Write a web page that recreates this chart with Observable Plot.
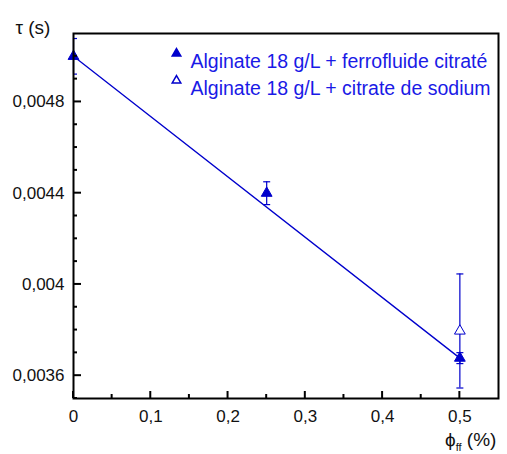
<!DOCTYPE html>
<html><head><meta charset="utf-8">
<script src="https://cdn.jsdelivr.net/npm/d3@7"></script>
<script src="https://cdn.jsdelivr.net/npm/@observablehq/plot@0.6"></script>
<style>body{margin:0;background:#fff;} svg{font-family:Arial,"Liberation Sans",sans-serif;}</style>
</head><body><div id="chart"></div>
<script>
// Series: filled triangles (ferrofluide citraté)
const ferroX = [0, 0.25, 0.5];
const ferroY = [0.005, 0.00440, 0.003677];
const ferroErr = [0.000078, 0.00005, 0.000024];
// Series: open triangles (citrate de sodium)
const citrateX = [0.5];
const citrateY = [0.003796];
const citrateErr = [0.00025];
// Linear fit line (end points)
const fitX = [0, 0.5];
const fitY = [0.005, 0.003677];
// Axis ticks
const xMajor = [0, 0.1, 0.2, 0.3, 0.4, 0.5];
const xMinor = [0.05, 0.15, 0.25, 0.35, 0.45];
const yMajor = [0.0036, 0.004, 0.0044, 0.0048];
const yMinor = [0.0035, 0.0037, 0.0038, 0.0039, 0.0041, 0.0042, 0.0043, 0.0045, 0.0046, 0.0047, 0.0049, 0.005];
const seriesNames = ["Alginate 18 g/L + ferrofluide citraté", "Alginate 18 g/L + citrate de sodium"];
const yTitle = "τ (s)";
const xTitleMain = "ϕ", xTitleSub = "ff", xTitleRest = " (%)";

const ferro = ferroX.map((x, i) => ({x, y: ferroY[i], lo: ferroY[i] - ferroErr[i], hi: ferroY[i] + ferroErr[i]}));
const citrate = citrateX.map((x, i) => ({x, y: citrateY[i], lo: citrateY[i] - citrateErr[i], hi: citrateY[i] + citrateErr[i]}));
const fit = fitX.map((x, i) => ({x, y: fitY[i]}));
const allPts = ferro.concat(citrate);

const W = 507, H = 454, mL = 73, mR = 9, mT = 33, mB = 56;

const blue = "#0000cc";
const textBlue = "#1a1ae6";
const comma = d => String(d).replace(".", ",");
const capSymbol = {draw(ctx, size) { const r = 3.5; ctx.moveTo(-r, 0); ctx.lineTo(r, 0); }};

const chart = Plot.plot({
  width: W, height: H,
  marginLeft: mL, marginRight: mR, marginTop: mT, marginBottom: mB,
  style: {fontFamily: "Arial, 'Liberation Sans', sans-serif", background: "#fff"},
  x: {domain: [0, 0.55]},
  y: {domain: [0.0035, 0.0051]},
  marks: [
    Plot.axisY(yMajor, {tickSize: 0, tickPadding: 9, tickFormat: comma, fontSize: 17, fill: "#111", label: null}),
    Plot.axisX(xMajor, {tickSize: 0, tickPadding: 11, tickFormat: comma, fontSize: 17, fill: "#111", label: null}),
    Plot.line(fit, {x: "x", y: "y", stroke: blue, strokeWidth: 1.3}),
    Plot.ruleX(allPts, {x: "x", y1: "lo", y2: "hi", stroke: blue, strokeWidth: 1.2}),
    Plot.dot(allPts, {x: "x", y: "lo", symbol: capSymbol, stroke: blue, strokeWidth: 1.2, r: 4, clip: true}),
    Plot.dot(allPts, {x: "x", y: "hi", symbol: capSymbol, stroke: blue, strokeWidth: 1.2, r: 4, clip: true}),
    Plot.dot(citrate, {x: "x", y: "y", symbol: "triangle", fill: "#fff", stroke: blue, strokeWidth: 1, r: 4}),
    Plot.dot(ferro, {x: "x", y: "y", symbol: "triangle", fill: blue, stroke: blue, strokeWidth: 1, r: 4}),
    Plot.frame({stroke: "#000", strokeWidth: 2}),
    // legend
    Plot.dot([seriesNames[0]], {frameAnchor: "top-left", dx: 103, dy: 20, symbol: "triangle", fill: blue, stroke: blue, r: 3.2}),
    Plot.dot([seriesNames[1]], {frameAnchor: "top-left", dx: 103, dy: 47, symbol: "triangle", fill: "#fff", stroke: blue, r: 3.2}),
    Plot.text([seriesNames[0]], {text: d => d, frameAnchor: "top-left", dx: 117, dy: 21, textAnchor: "start", fontSize: 19.5, fill: textBlue}),
    Plot.text([seriesNames[1]], {text: d => d, frameAnchor: "top-left", dx: 117, dy: 48, textAnchor: "start", fontSize: 19.5, fill: textBlue}),
    Plot.text([yTitle], {text: d => d, frameAnchor: "top-left", dx: -58, dy: -13, textAnchor: "start", fontSize: 19, fill: "#111"})
  ]
});
document.getElementById("chart").appendChild(chart);

// Inward-pointing ticks, positioned through Plot's own scales
const sx = chart.scale("x"), sy = chart.scale("y");
const svg = d3.select(chart);
const tg = svg.append("g").attr("stroke", "#000").attr("stroke-width", 2);
const x0 = sx.apply(0), yBottom = sy.apply(0.0035);
yMajor.forEach(v => tg.append("line").attr("x1", x0).attr("x2", x0 + 8).attr("y1", sy.apply(v)).attr("y2", sy.apply(v)));
yMinor.forEach(v => tg.append("line").attr("x1", x0).attr("x2", x0 + 4).attr("y1", sy.apply(v)).attr("y2", sy.apply(v)));
xMajor.forEach(v => tg.append("line").attr("x1", sx.apply(v)).attr("x2", sx.apply(v)).attr("y1", yBottom).attr("y2", yBottom - 7));
xMinor.forEach(v => tg.append("line").attr("x1", sx.apply(v)).attr("x2", sx.apply(v)).attr("y1", yBottom).attr("y2", yBottom - 4));

const t = svg.append("text").attr("x", 445).attr("y", 446).attr("font-size", 19).attr("fill", "#111")
  .attr("text-anchor", "start").attr("font-family", "Arial, 'Liberation Sans', sans-serif");
t.append("tspan").text(xTitleMain);
t.append("tspan").attr("font-size", 11).attr("dy", 5).text(xTitleSub);
t.append("tspan").attr("dy", -5).text(xTitleRest);
</script></body></html>
